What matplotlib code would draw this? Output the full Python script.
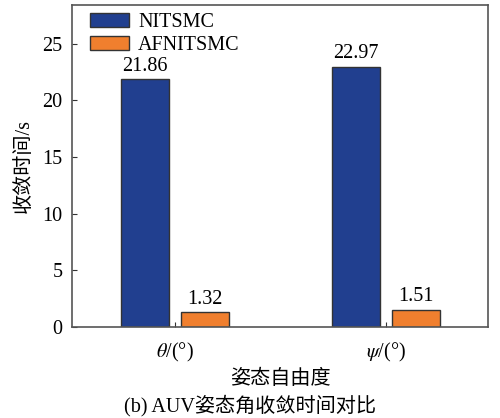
import matplotlib
matplotlib.use("Agg")
import matplotlib.pyplot as plt
import numpy as np

plt.rcParams['font.family'] = ['Liberation Serif', 'Noto Sans CJK SC']
plt.rcParams['mathtext.fontset'] = 'stix'

categories = [r'$\theta$/(°)', r'$\psi$/(°)']
nitsmc = [21.86, 22.97]
afnitsmc = [1.32, 1.51]

x = np.arange(len(categories))
w = 0.227
off = 0.142
fs = 14.5

fig = plt.figure(figsize=(5, 4.18), dpi=100)
ax = fig.add_axes([0.144, 0.2177, 0.832, 0.770])

b1 = ax.bar(x - off, nitsmc, w, color='#213f8f', edgecolor='#333333', linewidth=1, label='NITSMC')
b2 = ax.bar(x + off, afnitsmc, w, color='#f07f2e', edgecolor='#333333', linewidth=1, label='AFNITSMC')

for bars, vals in [(b1, nitsmc), (b2, afnitsmc)]:
    for r, v in zip(bars, vals):
        ax.text(r.get_x() + r.get_width() / 2, v + 0.3, f'{v:.2f}', ha='center', va='bottom', fontsize=fs)

ax.set_xlim(-0.49, 1.485)
ax.set_ylim(0, 28.4)
ax.set_yticks([0, 5, 10, 15, 20, 25])
ax.set_xticks(x)
ax.set_xticklabels(categories, fontsize=fs)
ax.tick_params(axis='both', direction='in', labelsize=fs, length=3.6, color='#333333')
ax.tick_params(axis='y', pad=7)
ax.tick_params(axis='x', pad=10)
for s in ax.spines.values():
    s.set_color('#555555')
    s.set_linewidth(1.2)

ax.set_ylabel('收敛时间/s', fontsize=fs, labelpad=6)
ax.set_xlabel('姿态自由度', fontsize=fs, labelpad=4)
ax.legend(loc='upper left', bbox_to_anchor=(0.043, 0.975), frameon=False, fontsize=fs,
          handlelength=1.95, handleheight=0.7, handletextpad=0.45,
          borderaxespad=0, borderpad=0, labelspacing=0.2)

fig.text(0.5, 0.016, '(b) AUV姿态角收敛时间对比', ha='center', fontsize=fs)

fig.savefig('out.png', dpi=100)
